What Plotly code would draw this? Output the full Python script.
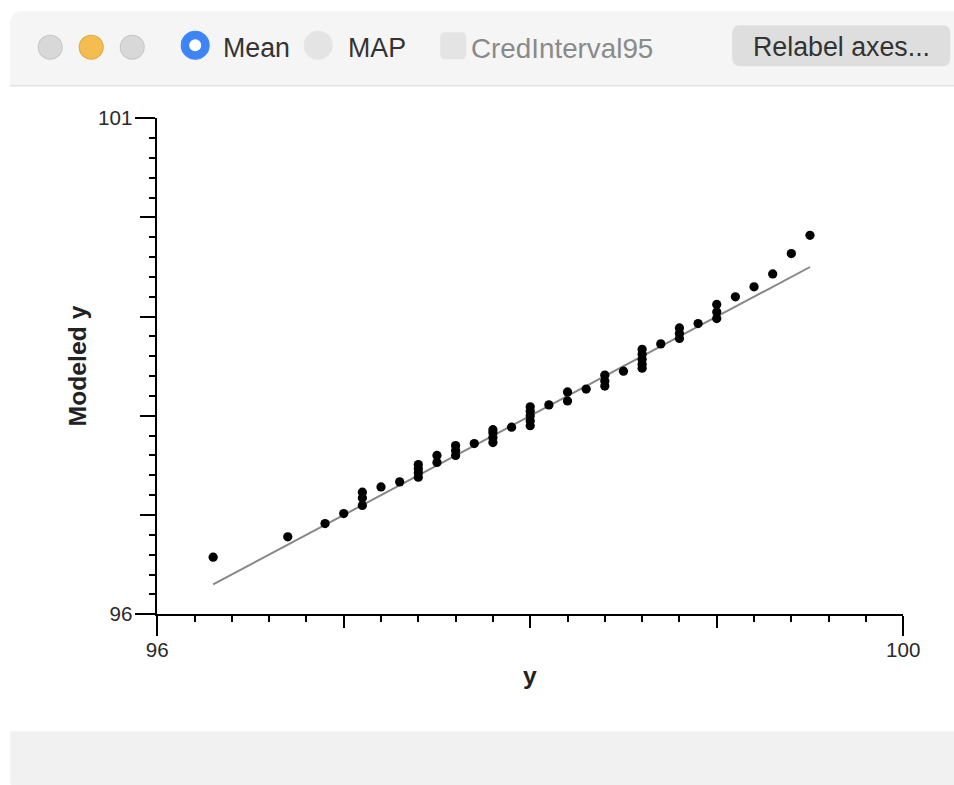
import plotly.graph_objects as go

# The page is photographed with a small offset and ~0.971 scale relative to
# figure pixels; all reference-pixel positions are mapped through that.
S = 0.971
OX, OY = 10.8, 10.8
W, H = 967, 793

# ---------------- data ----------------
observed_y = [96.3, 96.7, 96.9, 97.0,
              97.1, 97.1, 97.1,
              97.2, 97.3,
              97.4, 97.4, 97.4, 97.4,
              97.5, 97.5,
              97.6, 97.6, 97.6,
              97.7,
              97.8, 97.8, 97.8, 97.8,
              97.9,
              98.0, 98.0, 98.0, 98.0, 98.0,
              98.1,
              98.2, 98.2,
              98.3,
              98.4, 98.4, 98.4,
              98.5,
              98.6, 98.6, 98.6, 98.6, 98.6,
              98.7,
              98.8, 98.8, 98.8,
              98.9,
              99.0, 99.0, 99.0,
              99.1, 99.2, 99.3, 99.4, 99.5]
modeled_y = [96.575, 96.78, 96.914, 97.015,
             97.096, 97.172, 97.23,
             97.283, 97.334,
             97.381, 97.425, 97.467, 97.509,
             97.53, 97.60,
             97.60, 97.65, 97.70,
             97.72,
             97.73, 97.78, 97.83, 97.86,
             97.885,
             97.90, 97.95, 98.00, 98.045, 98.09,
             98.11,
             98.15, 98.24,
             98.27,
             98.30, 98.35, 98.41,
             98.45,
             98.48, 98.52, 98.57, 98.62, 98.67,
             98.725,
             98.78, 98.83, 98.886,
             98.93,
             98.98, 99.047, 99.122,
             99.20, 99.30, 99.43, 99.636, 99.82]

x_range = [96, 100]
y_range = [96, 101]
x_labeled_ticks = [96, 100]
x_major_ticks = [97, 98, 99]
y_labeled_ticks = [96, 101]
y_major_ticks = [97, 98, 99, 100]

x_title = "y"
y_title = "Modeled y"

# ---------------- helpers (reference pixel -> paper) ----------------
def fx(x):
    return (x - OX) / S

def fy(y):
    return (y - OY) / S

def px(x):
    return fx(x) / W

def py(y):
    return 1 - fy(y) / H

def sz(v):
    return v / S

FONT = "Helvetica, Arial, 'Liberation Sans', sans-serif"

fig = go.Figure()

# identity line over data span
lo, hi = min(observed_y), max(observed_y)
fig.add_trace(go.Scatter(x=[lo, hi], y=[lo, hi], mode="lines",
                         line=dict(color="#878787", width=sz(1.9)),
                         hoverinfo="skip", showlegend=False))
fig.add_trace(go.Scatter(x=observed_y, y=modeled_y, mode="markers",
                         marker=dict(color="black", size=sz(9), line=dict(width=0)),
                         showlegend=False))
# dummy trace for overlay axes
fig.add_trace(go.Scatter(x=[None], y=[None], xaxis="x2", yaxis="y2",
                         showlegend=False, hoverinfo="skip"))

x_dom = [px(157), px(903)]
y_dom = [py(613), py(117)]

base = dict(showgrid=False, zeroline=False, ticks="outside",
            tickcolor="black", tickwidth=sz(2),
            tickfont=dict(family=FONT, size=sz(20), color="#2a2a2a"))
minor = dict(dtick=0.2, tick0=96, ticklen=sz(6), tickwidth=sz(1.5),
             tickcolor="black", ticks="outside", showgrid=False)

fig.update_layout(
    width=W, height=H,
    margin=dict(l=0, r=0, t=0, b=0),
    paper_bgcolor="white", plot_bgcolor="white",
    xaxis=dict(domain=x_dom, range=x_range, tickvals=x_labeled_ticks,
               ticklen=sz(19), showline=True, linecolor="black", linewidth=sz(2),
               anchor="y", minor=minor, ticklabelstandoff=-4, **base),
    yaxis=dict(domain=y_dom, range=y_range, tickvals=y_labeled_ticks,
               ticklen=sz(20), showline=True, linecolor="black", linewidth=sz(2),
               anchor="x", minor=minor, ticklabelstandoff=-2, **base),
    xaxis2=dict(domain=x_dom, range=x_range, overlaying="x", anchor="y2",
                tickvals=x_major_ticks, ticklen=sz(12), showticklabels=False,
                showline=False, side="bottom", **base),
    yaxis2=dict(domain=y_dom, range=y_range, overlaying="y", anchor="x2",
                tickvals=y_major_ticks, ticklen=sz(16), showticklabels=False,
                showline=False, side="left", **base),
    showlegend=False,
)

shapes = []
ann = []

RIGHT = 960   # beyond right edge of reference
BOTTOM = 790

# top bar with rounded top-left corner
r = 12
shapes.append(dict(type="path", xref="paper", yref="paper",
                   path=f"M {px(10)},{py(84)} L {px(10)},{py(10+r)} Q {px(10)},{py(10)} {px(10+r)},{py(10)} "
                        f"L {px(RIGHT)},{py(10)} L {px(RIGHT)},{py(84)} Z",
                   fillcolor="#f5f5f5", line=dict(width=0), layer="below"))
shapes.append(dict(type="line", xref="paper", yref="paper",
                   x0=px(10), x1=px(RIGHT), y0=py(84.5), y1=py(84.5),
                   line=dict(color="#e2e2e2", width=sz(1.5))))
# bottom bar
shapes.append(dict(type="path", xref="paper", yref="paper",
                   path=f"M {px(10)},{py(730)} L {px(RIGHT)},{py(730)} L {px(RIGHT)},{py(BOTTOM)} "
                        f"L {px(10+r)},{py(BOTTOM)} Q {px(10)},{py(BOTTOM)} {px(10)},{py(BOTTOM-r)} Z",
                   fillcolor="#f1f1f1", line=dict(width=0), layer="below"))

def circle(cx, cy, rad, fill, border=None, bw=1):
    return dict(type="circle", xref="paper", yref="paper",
                x0=px(cx - rad), x1=px(cx + rad), y0=py(cy + rad), y1=py(cy - rad),
                fillcolor=fill, line=dict(color=border or fill, width=sz(bw)))

# traffic lights
shapes.append(circle(50, 46, 12, "#d8d8d8", "#c6c6c6"))
shapes.append(circle(91, 46, 12, "#f4bd50", "#dea845"))
shapes.append(circle(132, 46, 12, "#d8d8d8", "#c6c6c6"))

# radio Mean
shapes.append(circle(195, 44, 14, "#3d85f7"))
shapes.append(circle(195, 44, 5.5, "white"))
# radio MAP
shapes.append(circle(318, 44, 14, "#e4e4e4"))

def rrect(x0, y0, x1, y1, rad, fill):
    p = (f"M {px(x0+rad)},{py(y0)} L {px(x1-rad)},{py(y0)} Q {px(x1)},{py(y0)} {px(x1)},{py(y0+rad)} "
         f"L {px(x1)},{py(y1-rad)} Q {px(x1)},{py(y1)} {px(x1-rad)},{py(y1)} "
         f"L {px(x0+rad)},{py(y1)} Q {px(x0)},{py(y1)} {px(x0)},{py(y1-rad)} "
         f"L {px(x0)},{py(y0+rad)} Q {px(x0)},{py(y0)} {px(x0+rad)},{py(y0)} Z")
    return dict(type="path", xref="paper", yref="paper", path=p,
                fillcolor=fill, line=dict(width=0))

# checkbox
shapes.append(rrect(440, 31, 466, 58, 5, "#e4e4e4"))
# button
shapes.append(rrect(732, 24, 950, 65, 8, "#dedede"))

def text(x, y, s, size=26, color="#333", xanchor="left", bold=False, angle=0):
    return dict(xref="paper", yref="paper", x=px(x), y=py(y), text=f"<b>{s}</b>" if bold else s,
                showarrow=False, xanchor=xanchor, yanchor="middle", textangle=angle,
                font=dict(family=FONT, size=sz(size), color=color))

ann.append(text(221, 47, "Mean", size=26))
ann.append(text(346, 47, "MAP", size=26))
ann.append(text(469, 47, "CredInterval95", size=27, color="#8a8a8a"))
ann.append(text(841, 46, "Relabel axes...", size=26, xanchor="center"))

# axis titles
ann.append(text(530, 674, x_title, size=24, color="#222", xanchor="center", bold=True))
ann.append(text(77, 365, y_title, size=24, color="#222", xanchor="center", bold=True, angle=-90))

fig.update_layout(shapes=shapes, annotations=ann)

fig.write_html("out.html")
